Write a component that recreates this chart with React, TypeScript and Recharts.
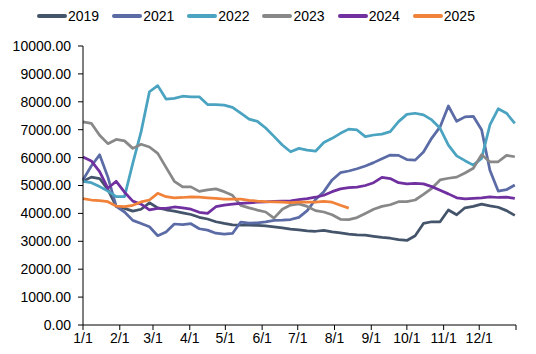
import React from 'react';
import { Line, LineChart, XAxis, YAxis } from 'recharts';

// day of year for each sample (weekly)
const DAYS = [
  0, 7, 14, 21, 28, 35, 42, 49, 56, 63, 70, 77, 84, 91, 98, 105, 112, 119, 126, 133, 140, 147, 154, 161, 168, 175,
  182, 189, 196, 203, 210, 217, 224, 231, 238, 245, 252, 259, 266, 273, 280, 287, 294, 301, 308, 315, 322, 329, 336,
  343, 350, 357, 364,
];

const Y2019 = [
  5150, 5300, 5250, 4850, 4250, 4180, 4080, 4150, 4380, 4200, 4130, 4080, 4020, 3960, 3860, 3800, 3700, 3640, 3590,
  3580, 3580, 3570, 3550, 3520, 3480, 3440, 3410, 3370, 3360, 3390, 3340, 3300, 3260, 3230, 3220, 3180, 3140, 3110,
  3060, 3030, 3200, 3640, 3700, 3700, 4120, 3950, 4200, 4250, 4330, 4270, 4220, 4100, 3930,
];
const Y2021 = [
  5200, 5700, 6100, 5300, 4250, 4050, 3750, 3640, 3520, 3200, 3330, 3620, 3600, 3630, 3450, 3400, 3290, 3260, 3280,
  3690, 3650, 3660, 3700, 3750, 3760, 3780, 3860, 4100, 4500, 4780, 5200, 5460, 5520, 5600, 5700, 5820, 5960, 6090,
  6080, 5930, 5910, 6200, 6700, 7100, 7850, 7300, 7460, 7480, 7000, 5550, 4800, 4850, 5020,
];
const Y2022 = [
  5150, 5100, 4960, 4800, 4600, 4600, 5800, 6930, 8360, 8580, 8100, 8120, 8200, 8180, 8180, 7900, 7900, 7880, 7800,
  7590, 7380, 7300, 7060, 6760, 6450, 6210, 6330, 6270, 6230, 6540, 6690, 6870, 7020, 6990, 6750, 6810, 6840, 6930,
  7290, 7550, 7590, 7530, 7350, 7050, 6450, 6060, 5890, 5730, 5970, 7170, 7750, 7590, 7230,
];
const Y2023 = [
  7280, 7230, 6800, 6500, 6650, 6600, 6330, 6480, 6380, 6150, 5650, 5150, 4950, 4950, 4790, 4840, 4880, 4780, 4650,
  4290, 4200, 4120, 4050, 3830, 4150, 4300, 4340, 4250, 4100, 4050, 3950, 3790, 3780, 3850, 4000, 4150, 4250, 4310,
  4420, 4420, 4480, 4680, 4900, 5200, 5260, 5300, 5450, 5620, 6100, 5850, 5850, 6080, 6030,
];
const Y2024 = [
  6020, 5880, 5500, 4900, 5150, 4760, 4440, 4330, 4130, 4180, 4180, 4230, 4200, 4150, 4040, 4000, 4240, 4300, 4330,
  4360, 4380, 4400, 4410, 4430, 4440, 4450, 4490, 4530, 4580, 4650, 4780, 4880, 4920, 4940, 5000, 5100, 5290, 5250,
  5100, 5060, 5080, 5060, 4960, 4830, 4700, 4560, 4520, 4540, 4560, 4590, 4570, 4580, 4540,
];
const Y2025 = [
  4530, 4480, 4460, 4420, 4260, 4240, 4290, 4410, 4480, 4720, 4600, 4560, 4570, 4590, 4580, 4560, 4540, 4510, 4510,
  4510, 4470, 4440, 4420, 4410, 4400, 4390, 4400, 4400, 4400, 4430, 4400, 4290, 4190,
];

const MONTH_DAYS = [0, 31, 59, 90, 120, 151, 181, 212, 243, 273, 304, 334, 365];
const MONTH_LABELS = ['1/1', '2/1', '3/1', '4/1', '5/1', '6/1', '7/1', '8/1', '9/1', '10/1', '11/1', '12/1', ''];
const Y_TICKS = [0, 1000, 2000, 3000, 4000, 5000, 6000, 7000, 8000, 9000, 10000];

const SERIES = [
  { key: 'y2019', name: '2019', color: '#44546A', values: Y2019 },
  { key: 'y2021', name: '2021', color: '#5B6BA6', values: Y2021 },
  { key: 'y2022', name: '2022', color: '#4AA3C0', values: Y2022 },
  { key: 'y2023', name: '2023', color: '#888888', values: Y2023 },
  { key: 'y2024', name: '2024', color: '#7030A0', values: Y2024 },
  { key: 'y2025', name: '2025', color: '#F0823A', values: Y2025 },
];

const data = DAYS.map((day, i) => {
  const row: Record<string, number | null> = { day };
  SERIES.forEach((s) => {
    row[s.key] = i < s.values.length ? s.values[i] : null;
  });
  return row;
});

const FONT = '"Liberation Sans", Arial, sans-serif';

function TopLegend() {
  return (
    <div
      style={{
        position: 'absolute',
        left: 37,
        top: 7,
        display: 'flex',
        gap: 13,
        fontFamily: FONT,
        fontSize: 14,
        color: '#000',
        lineHeight: '18px',
      }}
    >
      {SERIES.map((s) => (
        <div key={s.key} style={{ display: 'flex', alignItems: 'center' }}>
          <span style={{ display: 'inline-block', width: 30, height: 4, borderRadius: 2, background: s.color, marginRight: 1 }} />
          <span>{s.name}</span>
        </div>
      ))}
    </div>
  );
}

export default function App() {
  return (
    <div style={{ position: 'absolute', left: 0, top: 0, width: 536, height: 354, background: '#fff' }}>
      <TopLegend />
      <LineChart width={536} height={354} data={data} margin={{ top: 46, right: 20, bottom: 4, left: 0 }}>
        <XAxis
          dataKey="day"
          type="number"
          domain={[0, 365]}
          ticks={MONTH_DAYS}
          interval={0}
          tickFormatter={(v: number) => MONTH_LABELS[MONTH_DAYS.indexOf(v)] ?? ''}
          tick={{ fontSize: 14, fill: '#000', fontFamily: FONT }}
          axisLine={{ stroke: '#000' }}
          tickLine={{ stroke: '#000' }}
          tickSize={5}
          tickMargin={3}
          height={25}
        />
        <YAxis
          type="number"
          domain={[0, 10000]}
          ticks={Y_TICKS}
          interval={0}
          tickFormatter={(v: number) => v.toFixed(2)}
          tick={{ fontSize: 14, fill: '#000', fontFamily: FONT }}
          axisLine={{ stroke: '#000' }}
          tickLine={{ stroke: '#000' }}
          tickSize={5}
          tickMargin={7}
          width={83}
        />
        {SERIES.map((s) => (
          <Line
            key={s.key}
            dataKey={s.key}
            name={s.name}
            type="linear"
            stroke={s.color}
            strokeWidth={2.75}
            strokeLinejoin="round"
            dot={false}
            connectNulls={false}
            isAnimationActive={false}
          />
        ))}
      </LineChart>
    </div>
  );
}
